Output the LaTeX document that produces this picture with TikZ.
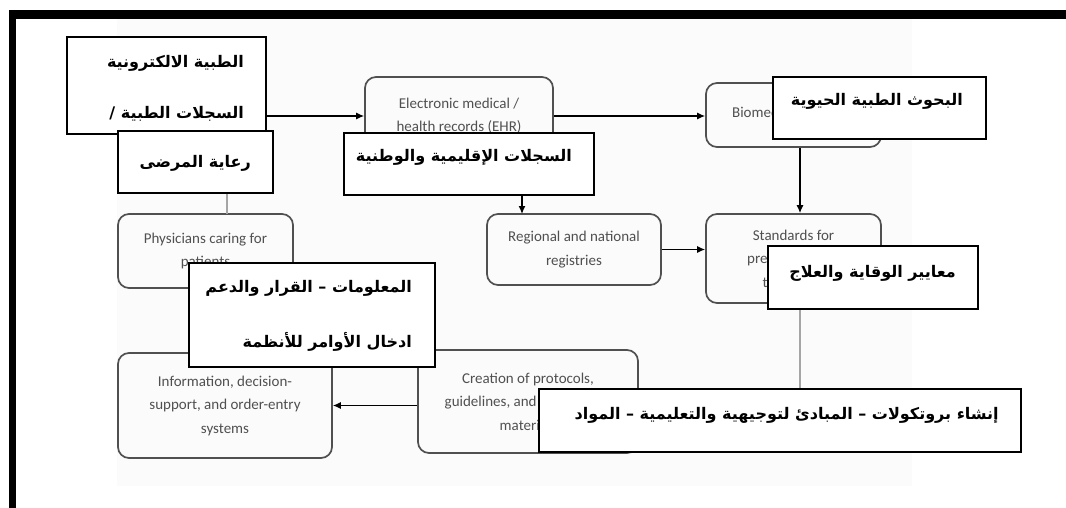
\documentclass[tikz,border=0pt]{standalone}
\usepackage{fontspec}
\setmainfont{Carlito}
\newfontfamily\arabicfont[Script=Arabic]{DejaVu Sans}
\TeXXeTstate=1
\usetikzlibrary{arrows.meta}
\definecolor{bggray}{RGB}{251,251,251}
\definecolor{boxgray}{RGB}{80,80,80}
\definecolor{txtgray}{RGB}{80,80,80}
\definecolor{linegray}{RGB}{165,165,165}
\begin{document}
\begin{tikzpicture}[x=1pt,y=-1pt,
  ebox/.style={draw=boxgray, line width=1.7pt, rounded corners=11pt, inner sep=0pt,
    align=center, text=txtgray, font=\fontsize{15}{23.5}\selectfont},
  arbox/.style={draw=black, line width=1.3pt, fill=white, inner sep=0pt},
  artext/.style={inner sep=0pt, anchor=mid east, font=\arabicfont\bfseries\fontsize{16}{20}\selectfont},
  arr/.style={draw=black, line width=1.3pt, -{Latex[length=8pt,width=7pt]}},
  gline/.style={draw=linegray, line width=1.4pt}
]
\useasboundingbox (0,0) rectangle (1066,508);
\fill[white] (0,0) rectangle (1066,508);
\fill[bggray] (117,19) rectangle (912,486);
% frame
\fill[black] (9,10) rectangle (1066,19);
\fill[black] (9,10) rectangle (16,508);

% English boxes (parts hidden under the Arabic labels are kept as blank space)
\node[ebox, minimum width=188pt, minimum height=78pt] (ehr) at (459,116) {Electronic medical /\\health records (EHR)};
\node[ebox, minimum width=175pt, minimum height=64pt] (bio) at (793.5,115) {\raisebox{6pt}{Biomed\phantom{ical research}}};
\node[ebox, minimum width=175pt, minimum height=74pt] (phys) at (205.5,251) {Physicians caring for\\patients};
\node[ebox, minimum width=174pt, minimum height=71pt] (reg) at (574,249.5) {Regional and national\\registries};
\node[ebox, minimum width=175pt, minimum height=89pt] (std) at (793.5,258.5) {Standards for\\pre\phantom{vention and}\\t\phantom{reatment}};
\node[ebox, minimum width=214pt, minimum height=105pt] (info) at (225,405.5) {Information, decision-\\support, and order-entry\\systems};
\node[ebox, minimum width=220pt, minimum height=103pt] (cre) at (528,401.5) {Creation of protocols,\\guidelines, and\phantom{ educational}\\materi\phantom{als}};

% connectors
\coordinate (regin) at (522,214);
\coordinate (physin) at (227,214);
\coordinate (stdout) at (800,303);
\coordinate (ar1out) at (266,116);
\draw[arr] (ar1out) -- (ar1out -| ehr.west);
\draw[arr] (ehr.east) -- (ehr.east -| bio.west);
\draw[arr] (bio.south -| stdout) -- (stdout |- std.north);
\draw[arr] (reg.east) -- (reg.east -| std.west);
\draw[arr] (cre.west |- info.east) -- (info.east);
\draw[gline] (stdout) -- (stdout |- 0,389);

% Arabic boxes
\node[arbox, minimum width=199pt, minimum height=97pt] (ar1) at (166.5,85.5) {};
\draw[arr] (regin |- 0,195) -- (regin);
\draw[gline] (physin |- 0,193) -- (physin);
\node[arbox, minimum width=155pt, minimum height=62pt] (ar2) at (195.5,162) {};
\node[arbox, minimum width=250pt, minimum height=62pt] (ar3) at (469,164) {};
\node[arbox, minimum width=213pt, minimum height=62pt] (ar4) at (879.5,108) {};
\node[arbox, minimum width=210pt, minimum height=63pt] (ar5) at (873,277.5) {};
\node[arbox, minimum width=246pt, minimum height=104pt] (ar6) at (312,315) {};
\node[arbox, minimum width=482pt, minimum height=63pt] (ar7) at (780,420.5) {};

% Arabic texts
\node[artext] (t1a) at (244,65) {\beginR الطبية الالكترونية\endR};
\node[artext] (t1b) at (244,116) {\beginR السجلات الطبية /\endR};
\node[artext] (t2) at (251,165) {\beginR رعاية المرضى\endR};
\node[artext] (t3) at (572,159) {\beginR السجلات الإقليمية والوطنية\endR};
\node[artext] (t4) at (963,103) {\beginR البحوث الطبية الحيوية\endR};
\node[artext] (t5) at (956,275) {\beginR معايير الوقاية والعلاج\endR};
\node[artext] (t6a) at (412,290) {\beginR المعلومات – القرار والدعم\endR};
\node[artext] (t6b) at (412,345) {\beginR ادخال الأوامر للأنظمة\endR};
\node[artext] (t7) at (999,417) {\beginR إنشاء بروتكولات – المبادئ لتوجيهية والتعليمية – المواد\endR};
\end{tikzpicture}
\end{document}
